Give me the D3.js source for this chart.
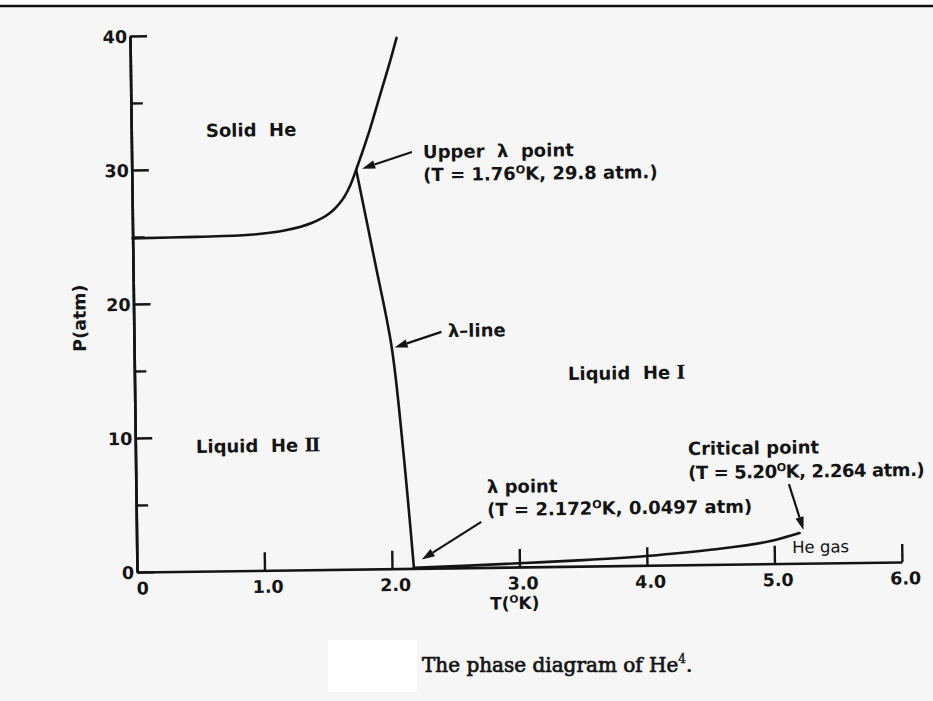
<!DOCTYPE html>
<html><head><meta charset="utf-8">
<script src="https://cdn.jsdelivr.net/npm/d3@7/dist/d3.min.js"></script>
<style>
html,body{margin:0;padding:0;background:#fff;}
svg{display:block;}
text{white-space:pre;}
</style></head><body>
<svg id="chart" width="933" height="701"></svg>
<script>
// ---------- data ----------
const meltingT = [0, 0.5, 0.92, 1.2, 1.4, 1.55, 1.65, 1.71, 1.76, 1.87, 1.955, 2.04, 2.09];
const meltingP = [24.9, 24.95, 25.05, 25.35, 25.85, 26.6, 27.6, 28.6, 29.8, 32.75, 35.35, 37.95, 39.6];

const lambdaT = [1.76, 1.90, 2.02, 2.10, 2.172];
const lambdaP = [29.8, 22.8, 16.56, 8.84, 0.0497];

const vaporT = [2.172, 2.6, 3.0, 3.5, 4.0, 4.5, 5.0, 5.2];
const vaporP = [0.0497, 0.15, 0.28, 0.45, 0.7, 1.1, 1.75, 2.264];

const pointNames = ["upperLambda", "lambda", "critical"];
const pointT = [1.76, 2.172, 5.20];
const pointP = [29.8, 0.0497, 2.264];

const xTicks = [0, 1, 2, 3, 4, 5, 6];
const xTickLabels = ["0", "1.0", "2.0", "3.0", "4.0", "5.0", "6.0"];
const yMajorTicks = [0, 10, 20, 30, 40];
const yMajorLabels = ["0", "10", "20", "30", "40"];
const yMinorTicks = [5, 15, 25, 35];

const regionLabels = ["Solid  He", "Liquid  He ", "Liquid  He "];
const regionNumerals = ["", "\u2161", "\u2160"];
const regionT = [0.586, 0.475, 3.40];
const regionP = [32.39, 8.82, 13.9];

const yTitle = "P(atm)";
const xTitle = "T({O}K)";
const caption = "The phase diagram of He";

// ---------- layout ----------
const W = 933, H = 701;
const X0 = 137, X1 = 902, Y0 = 572, Y1 = 36;
const INK = "#141414";
const FONT = "'DejaVu Sans', sans-serif";
const FS = 18;

const svg = d3.select("#chart");
svg.append("rect").attr("x", 0).attr("y", 0).attr("width", W).attr("height", H).attr("fill", "#ffffff");
svg.append("rect").attr("x", 0).attr("y", 7).attr("width", W).attr("height", H - 7).attr("fill", "#f6f6f6");
svg.append("line").attr("x1", 0).attr("x2", W).attr("y1", 6).attr("y2", 6)
  .attr("stroke", "#111").attr("stroke-width", 2.5);
svg.append("rect").attr("x", 328).attr("y", 640).attr("width", 89).attr("height", 52).attr("fill", "#ffffff");

const x = d3.scaleLinear().domain([0, 6]).range([X0, X1]);
const y = d3.scaleLinear().domain([0, 40]).range([Y0, Y1]);

const g = svg.append("g").attr("transform", `rotate(-0.75,${X0},${Y0})`);

function styleAxis(sel) {
  sel.select(".domain").attr("stroke", INK).attr("stroke-width", 2.6);
  sel.selectAll(".tick line").attr("stroke", INK).attr("stroke-width", 2.4);
  sel.selectAll(".tick text").attr("fill", INK).attr("font-family", FONT)
    .attr("font-weight", "bold").attr("font-size", 17.5);
}

// y axis minor ticks
g.append("g").attr("transform", `translate(${X0},0)`)
  .call(d3.axisLeft(y).tickValues(yMinorTicks).tickSizeInner(-12).tickSizeOuter(0).tickFormat(""))
  .call(styleAxis);
// y axis major ticks
g.append("g").attr("transform", `translate(${X0},0)`)
  .call(d3.axisLeft(y).tickValues(yMajorTicks).tickSizeInner(-17).tickSizeOuter(0).tickPadding(3)
    .tickFormat((d, i) => yMajorLabels[i]))
  .call(styleAxis)
  .call(s => s.selectAll(".tick text").attr("dy", "0.36em"));
// x axis
const xa = g.append("g").attr("transform", `translate(0,${Y0})`)
  .call(d3.axisBottom(x).tickValues(xTicks).tickSizeInner(-18).tickSizeOuter(0).tickPadding(10)
    .tickFormat((d, i) => xTickLabels[i]))
  .call(styleAxis);
xa.selectAll(".tick text").attr("dx", (d) => d === 0 ? 5 : 3);
xa.selectAll(".tick").filter(d => d === 0).select("line").remove();

// ---------- curves ----------
const line = d3.line().x(d => x(d[0])).y(d => y(d[1]));
function curve(T, P, c) {
  g.append("path").datum(T.map((t, i) => [t, P[i]]))
    .attr("d", line.curve(c))
    .attr("fill", "none").attr("stroke", INK).attr("stroke-width", 2.6)
    .attr("stroke-linejoin", "round").attr("stroke-linecap", "round");
}
curve(meltingT, meltingP, d3.curveCatmullRom.alpha(0.5));
curve(lambdaT, lambdaP, d3.curveCatmullRom);
curve(vaporT, vaporP, d3.curveMonotoneX);

// ---------- text helpers ----------
function richText(parent, str, opts) {
  const size = opts.size || FS;
  const t = parent.append("text")
    .attr("x", opts.x).attr("y", opts.y)
    .attr("font-family", opts.family || FONT)
    .attr("font-weight", opts.weight || "bold")
    .attr("font-size", size)
    .attr("fill", INK)
    .attr("text-anchor", opts.anchor || "start");
  if (opts.spacing) t.attr("letter-spacing", opts.spacing);
  if (opts.transform) t.attr("transform", opts.transform);
  const parts = str.split("{O}");
  parts.forEach((p, i) => {
    if (i > 0) {
      t.append("tspan").attr("dy", -6.5).attr("font-size", size * 0.62).text("O");
      t.append("tspan").attr("dy", 6.5).text(p);
    } else {
      t.append("tspan").text(p);
    }
  });
  return t;
}

function arrow(x1, y1, x2, y2) {
  const ang = Math.atan2(y2 - y1, x2 - x1);
  const L = 13, Wd = 4.2;
  const bx = x2 - L * Math.cos(ang), by = y2 - L * Math.sin(ang);
  g.append("line").attr("x1", x1).attr("y1", y1).attr("x2", bx).attr("y2", by)
    .attr("stroke", INK).attr("stroke-width", 2.2);
  g.append("path")
    .attr("d", `M${x2},${y2}L${bx + Wd * Math.sin(ang)},${by - Wd * Math.cos(ang)}L${bx - Wd * Math.sin(ang)},${by + Wd * Math.cos(ang)}Z`)
    .attr("fill", INK);
}

// region labels
regionLabels.forEach((s, i) => {
  const t = richText(g, s, { x: x(regionT[i]), y: y(regionP[i]) });
  if (regionNumerals[i]) {
    t.append("tspan").attr("font-family", "'DejaVu Serif', serif").attr("font-size", 19)
      .text(regionNumerals[i]);
  }
});

// annotations
const ul = [x(pointT[0]), y(pointP[0])];
richText(g, "Upper  \u03bb  point", { x: x(2.286), y: y(30.6) });
richText(g, "(T = 1.76{O}K, 29.8 atm.)", { x: x(2.286), y: y(30.6) + 23 });
arrow(ul[0] + 56, ul[1] - 17, ul[0] + 6, ul[1] - 1);

richText(g, "\u03bb\u2013line", { x: x(2.463), y: y(17.23) });
arrow(x(2.02) + 50, y(16.5) - 15, x(2.02) + 3, y(16.5));

const lp = [x(pointT[1]), y(pointP[1])];
richText(g, "\u03bb point", { x: x(2.753), y: y(5.55) });
richText(g, "(T = 2.172{O}K, 0.0497 atm)", { x: x(2.753), y: y(5.55) + 23 });
arrow(lp[0] + 68, lp[1] - 45, lp[0] + 8, lp[1] - 8);

const cp = [x(pointT[2]), y(pointP[2])];
richText(g, "Critical point", { x: x(4.333), y: y(8.19) });
richText(g, "(T = 5.20{O}K, 2.264 atm.)", { x: x(4.333), y: y(8.19) + 24, spacing: -0.45 });
arrow(cp[0] - 10, cp[1] - 49, cp[0] + 4, cp[1] - 3);

richText(g, "He gas", { x: x(5.14), y: y(0.78), weight: "normal", size: 16.5 });

// axis titles
richText(g, yTitle, { x: 0, y: 0, anchor: "middle", size: 17.5,
  transform: `translate(${X0 - 48},${y(19)}) rotate(-90)` });
richText(g, xTitle, { x: x(2.96), y: Y0 + 42, anchor: "middle", size: 17 });

// caption
const cap = svg.append("text").attr("x", 422).attr("y", 672)
  .attr("font-family", "'DejaVu Serif', serif").attr("font-size", 20)
  .attr("fill", INK).attr("stroke", INK).attr("stroke-width", 0.7);
cap.append("tspan").text(caption);
cap.append("tspan").attr("dy", -9).attr("font-size", 12).attr("stroke-width", 0.4).text("4");
cap.append("tspan").attr("dy", 9).text(".");
</script>
</body></html>
